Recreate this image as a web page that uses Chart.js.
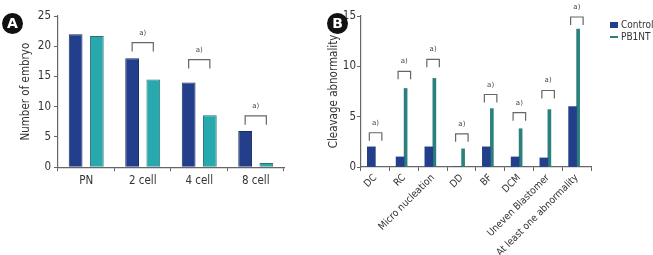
<!DOCTYPE html>
<html>
<head>
<meta charset="utf-8">
<script src="https://cdn.jsdelivr.net/npm/chart.js@4/dist/chart.umd.min.js"></script>
<style>
  body { margin: 0; background: #fff; width: 653px; height: 255px; position: relative; overflow: hidden; font-family: "DejaVu Sans Condensed", Roboto, sans-serif; }
  .panel { position: absolute; top: 0; height: 255px; }
  .badge { position: absolute; width: 21px; height: 21px; border-radius: 50%; background: #111; color: #fff;
           font: bold 14px "DejaVu Sans", sans-serif; text-align: center; line-height: 21px; }
  .legend { position: absolute; left: 610px; top: 19px; font-size: 10px; color: #333; line-height: 12px; white-space: nowrap; }
  .legend span { display: inline-block; vertical-align: middle; margin-right: 3px; width: 8px; }
</style>
</head>
<body>
<div class="panel" style="left:0;width:318px"><canvas id="chartA" width="318" height="255"></canvas></div>
<div class="panel" style="left:318px;width:335px"><canvas id="chartB" width="335" height="255"></canvas></div>
<div class="badge" style="left:2px;top:13px">A</div>
<div class="badge" style="left:327px;top:13px">B</div>
<div class="legend">
  <div><span style="height:6px;background:#233f8b"></span>Control</div>
  <div><span style="height:2px;background:#2b807d"></span>PB1NT</div>
</div>
<script>
// Panel A datas
const stages = ["PN", "2 cell", "4 cell", "8 cell"];
const embryoControl = [22, 18, 14, 6];
const embryoPB1NT = [21.7, 14.5, 8.6, 0.7];
const embryoBrackets = [null, 20.6, 17.8, 8.5];   // height of the "a)" bracket, null = none

// Panel B datas
const abnormalities = ["DC", "RC", "Micro nucleation", "DD", "BF", "DCM", "Uneven Blastomer", "At least one abnormality"];
const abnControl = [2, 1, 2, 0, 2, 1, 0.9, 6];
const abnPB1NT = [0, 7.8, 8.8, 1.8, 5.8, 3.8, 5.7, 13.7];
const abnBrackets = [3.4, 9.5, 10.7, 3.3, 7.2, 5.4, 7.6, 14.9];

const navy = '#233f8b';
const fontFamily = '"DejaVu Sans Condensed", Roboto, sans-serif';
const tickFont = { family: fontFamily, size: 11.5 };

// draws the significance brackets above each pair of bars
const bracketPlugin = {
    id: 'brackets',
    afterDatasetsDraw(chart, args, opts) {
        const ctx = chart.ctx;
        const y = chart.scales.y;
        const m0 = chart.getDatasetMeta(0).data;
        const m1 = chart.getDatasetMeta(1).data;
        ctx.save();
        ctx.strokeStyle = '#666';
        ctx.lineWidth = 1.2;
        ctx.fillStyle = '#444';
        ctx.font = '7px "DejaVu Sans", sans-serif';
        ctx.textAlign = 'center';
        opts.heights.forEach((h, i) => {
            if (h == null) return;
            const x1 = m0[i].x - opts.left;
            const x2 = m1[i].x + opts.right;
            const yy = y.getPixelForValue(h);
            ctx.beginPath();
            ctx.moveTo(x1, yy + opts.drop);
            ctx.lineTo(x1, yy);
            ctx.lineTo(x2, yy);
            ctx.lineTo(x2, yy + opts.drop);
            ctx.stroke();
            ctx.fillText('a)', (x1 + x2) / 2, yy - 8);
        });
        ctx.restore();
    }
};

function axisStyle() {
    return {
        grid: { drawOnChartArea: false, drawTicks: true, tickLength: 4, color: '#666' },
        border: { color: '#666', width: 1.2 },
        ticks: { color: '#333', font: tickFont }
    };
}

// the chart A
const chartA = new Chart('chartA', {
    type: 'bar',
    data: {
        labels: stages,
        datasets: [{
            label: 'Control',
            data: embryoControl,
            backgroundColor: navy,
            borderColor: '#1b2f66',
            borderWidth: 1
        },
        {
            label: 'PB1NT',
            data: embryoPB1NT,
            backgroundColor: '#27a9ae',
            borderColor: '#2a6f72',
            borderWidth: 1
        }]
    },
    options: {
        responsive: false,
        animation: false,
        layout: { padding: { left: 17, top: 16, right: 34, bottom: 64 } },
        datasets: { bar: { categoryPercentage: 0.75, barPercentage: 0.65 } },
        plugins: {
            legend: { display: false },
            tooltip: { enabled: false },
            brackets: { heights: embryoBrackets, left: 0, right: 0, drop: 9 }
        },
        scales: {
            x: axisStyle(),
            y: Object.assign(axisStyle(), {
                min: 0, max: 25,
                ticks: { stepSize: 5, color: '#333', font: tickFont },
                title: { display: true, text: 'Number of embryo', color: '#333', font: tickFont, padding: 2 }
            })
        }
    },
    plugins: [bracketPlugin]
});

// the chart B
const chartB = new Chart('chartB', {
    type: 'bar',
    data: {
        labels: abnormalities,
        datasets: [{
            label: 'Control',
            data: abnControl,
            backgroundColor: navy,
            barThickness: 8
        },
        {
            label: 'PB1NT',
            data: abnPB1NT,
            backgroundColor: '#2b807d',
            barThickness: 3
        }]
    },
    options: {
        responsive: false,
        animation: false,
        layout: { padding: { left: 8, top: 16, right: 62, bottom: 0 } },
        datasets: { bar: { categoryPercentage: 0.62 } },
        plugins: {
            legend: { display: false },
            tooltip: { enabled: false },
            brackets: { heights: abnBrackets, left: 2, right: 5, drop: 8 }
        },
        scales: {
            x: Object.assign(axisStyle(), {
                ticks: { color: '#333', font: { family: fontFamily, size: 10 }, minRotation: 45, maxRotation: 45, padding: 1 },
                afterFit(scale) { scale.height = 88; }
            }),
            y: Object.assign(axisStyle(), {
                min: 0, max: 15,
                ticks: { stepSize: 5, color: '#333', font: tickFont, padding: 1 },
                title: { display: true, text: 'Cleavage abnormality', color: '#333', font: tickFont, padding: 1 }
            })
        }
    },
    plugins: [bracketPlugin]
});
</script>
</body>
</html>
